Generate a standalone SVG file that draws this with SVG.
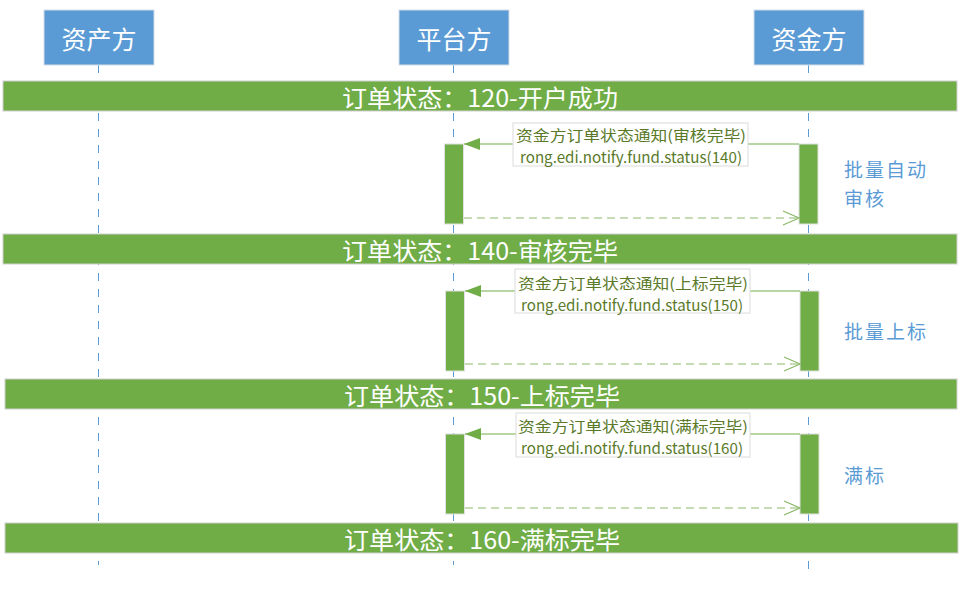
<svg xmlns="http://www.w3.org/2000/svg" width="961" height="616" viewBox="0 0 961 616">
<defs>
<style>
.hdr{fill:#5B9BD5;stroke:#d5dde6;stroke-width:1}
.hdrt{fill:#fff;font-family:"Noto Sans CJK SC","Noto Sans",sans-serif;font-size:25px;text-anchor:middle;dominant-baseline:central}
.life{stroke:#5B9BD5;stroke-width:1;stroke-dasharray:8,8;fill:none}
.band{fill:#70AD47;stroke:#d0d0d0;stroke-width:1}
.bandt{fill:#fff;font-family:"Noto Sans CJK SC","Noto Sans",sans-serif;font-size:24px;text-anchor:middle;dominant-baseline:central}
.act{fill:#70AD47;stroke:#e0e0e0;stroke-width:1}
.msg{stroke:#70AD47;stroke-width:1;fill:none}
.ret{stroke:#8DB96A;stroke-width:1.2;stroke-dasharray:8,5;fill:none}
.lbl{fill:#fff;stroke:#dcdcdc;stroke-width:1}
.lblt{fill:#5a7a2a;font-family:"Noto Sans CJK SC","Noto Sans",sans-serif;font-size:15px;text-anchor:middle;dominant-baseline:central}
.side{fill:#5B9BD5;font-family:"Noto Sans CJK SC","Noto Sans",sans-serif;font-size:19px;letter-spacing:2px}
</style>
<marker id="fill" markerWidth="16" markerHeight="12" refX="16" refY="6" orient="auto" markerUnits="userSpaceOnUse">
<path d="M0,0 L16,6 L0,12 Z" fill="#70AD47"/>
</marker>
<marker id="open" markerWidth="18" markerHeight="16" refX="17" refY="8" orient="auto" markerUnits="userSpaceOnUse">
<path d="M1,1 L17,8 L1,15" fill="none" stroke="#8DB96A" stroke-width="1.2"/>
</marker>
</defs>
<rect width="961" height="616" fill="#fff"/>

<g id="lifelines">
<line class="life" x1="98.5" y1="65" x2="98.5" y2="565"/>
<line class="life" x1="453.5" y1="65" x2="453.5" y2="565"/>
<line class="life" x1="808.5" y1="65" x2="808.5" y2="576"/>
</g>

<g id="asset">
<rect class="hdr" x="44" y="10" width="110" height="55"/>
<text class="hdrt" x="99" y="38">资产方</text>
</g>
<g id="platform">
<rect class="hdr" x="399" y="10" width="110" height="55"/>
<text class="hdrt" x="454" y="38">平台方</text>
</g>
<g id="funder">
<rect class="hdr" x="754" y="10" width="110" height="55"/>
<text class="hdrt" x="809" y="38">资金方</text>
</g>

<g id="state120">
<rect class="band" x="3" y="81" width="954" height="30"/>
<text class="bandt" x="480" y="96" textLength="276" lengthAdjust="spacingAndGlyphs">订单状态：120-开户成功</text>
</g>
<g id="state140">
<rect class="band" x="3" y="234" width="954" height="30"/>
<text class="bandt" x="480" y="249" textLength="276" lengthAdjust="spacingAndGlyphs">订单状态：140-审核完毕</text>
</g>
<g id="state150">
<rect class="band" x="5" y="379" width="952" height="30"/>
<text class="bandt" x="482" y="394" textLength="276" lengthAdjust="spacingAndGlyphs">订单状态：150-上标完毕</text>
</g>
<g id="state160">
<rect class="band" x="5" y="523" width="953" height="30"/>
<text class="bandt" x="482" y="538" textLength="276" lengthAdjust="spacingAndGlyphs">订单状态：160-满标完毕</text>
</g>

<g id="activations">
<rect class="act" x="444.5" y="144" width="19" height="80"/>
<rect class="act" x="799" y="144" width="19" height="80"/>
<rect class="act" x="445.5" y="291" width="19" height="80"/>
<rect class="act" x="800" y="291" width="19" height="80"/>
<rect class="act" x="445.5" y="434" width="19" height="80"/>
<rect class="act" x="800" y="434" width="19" height="80"/>
</g>

<g id="connectors">
<line class="msg" x1="799" y1="144" x2="464" y2="144" marker-end="url(#fill)"/>
<line class="ret" x1="464" y1="218" x2="799" y2="218" marker-end="url(#open)"/>
<line class="msg" x1="800" y1="291" x2="465" y2="291" marker-end="url(#fill)"/>
<line class="ret" x1="465" y1="364" x2="800" y2="364" marker-end="url(#open)"/>
<line class="msg" x1="800" y1="434" x2="465" y2="434" marker-end="url(#fill)"/>
<line class="ret" x1="465" y1="508" x2="800" y2="508" marker-end="url(#open)"/>
</g>

<g id="label140">
<rect class="lbl" x="513" y="123" width="235" height="43"/>
<text class="lblt" x="631" y="134" textLength="230" lengthAdjust="spacingAndGlyphs">资金方订单状态通知(审核完毕)</text>
<text class="lblt" x="631" y="156" textLength="222" lengthAdjust="spacingAndGlyphs">rong.edi.notify.fund.status(140)</text>
</g>
<g id="label150">
<rect class="lbl" x="515" y="269" width="235" height="44"/>
<text class="lblt" x="633" y="282" textLength="230" lengthAdjust="spacingAndGlyphs">资金方订单状态通知(上标完毕)</text>
<text class="lblt" x="632" y="304" textLength="222" lengthAdjust="spacingAndGlyphs">rong.edi.notify.fund.status(150)</text>
</g>
<g id="label160">
<rect class="lbl" x="516" y="413" width="234" height="44"/>
<text class="lblt" x="633" y="425" textLength="230" lengthAdjust="spacingAndGlyphs">资金方订单状态通知(满标完毕)</text>
<text class="lblt" x="632" y="447" textLength="222" lengthAdjust="spacingAndGlyphs">rong.edi.notify.fund.status(160)</text>
</g>

<g id="notes">
<text class="side" x="844" y="177">批量自动</text>
<text class="side" x="844" y="206">审核</text>
<text class="side" x="844" y="339">批量上标</text>
<text class="side" x="844" y="483">满标</text>
</g>
</svg>
